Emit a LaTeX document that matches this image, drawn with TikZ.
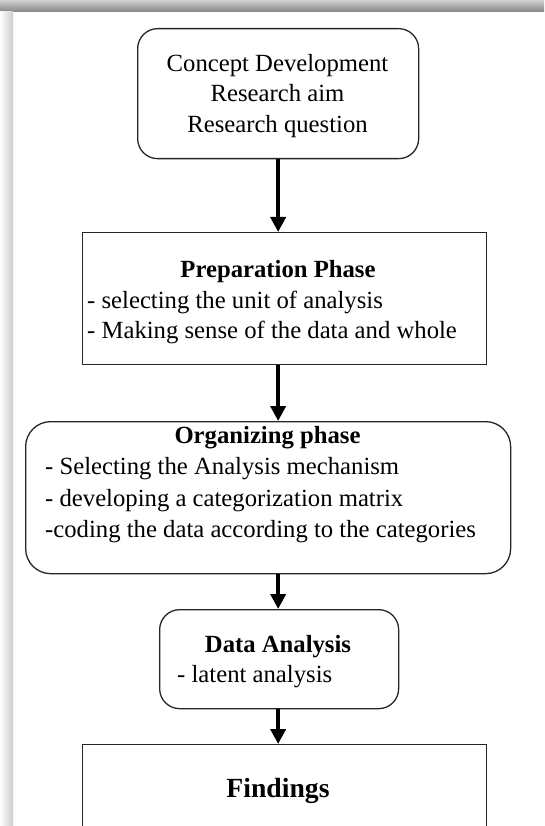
\documentclass[tikz,border=0pt]{standalone}
\usepackage{fontspec}
\setmainfont{Liberation Serif}
\usetikzlibrary{arrows.meta}
\begin{document}
\begin{tikzpicture}[x=1pt,y=-1pt,
  box/.style={draw=black!85, line width=1.3pt, inner sep=0pt, anchor=north west, fill=white},
  rbox/.style={box, rounded corners=20pt},
  txt/.style={inner sep=0pt, font=\fontsize{24.7}{30}\selectfont},
  ttl/.style={inner sep=0pt, font=\fontsize{24.7}{30}\selectfont\bfseries},
  arr/.style={line width=4.5pt, -{Triangle[width=15pt,length=15pt]}}
]
\useasboundingbox (0,0) rectangle (544,826);
\clip (0,0) rectangle (544,826);
\fill[white] (0,0) rectangle (544,826);

% page edge shadows
\shade[top color=black!18, bottom color=black!48] (0,0) rectangle (544,12);
\shade[left color=white, right color=black!20] (0,12) rectangle (13,826);

% boxes
\node[rbox, minimum width=281pt, minimum height=130pt] (b1) at (137,28) {};
\node[box, minimum width=404pt, minimum height=132pt] (b2) at (82,232) {};
\node[rbox, rounded corners=25pt, minimum width=485pt, minimum height=152pt] (b3) at (25,421) {};
\node[rbox, minimum width=239pt, minimum height=99pt] (b4) at (159,609) {};
\node[box, minimum width=404pt, minimum height=120pt] (b5) at (82,744) {};

% texts
\node[txt, anchor=base] (t1a) at (277.5,72) {Concept Development};
\node[txt, anchor=base] (t1b) at (277.5,102) {Research aim};
\node[txt, anchor=base] (t1c) at (277.5,133) {Research question};

\node[ttl, anchor=base] (t2a) at (278,277) {Preparation Phase};
\node[txt, anchor=base west] (t2b) at (87,308) {- selecting the unit of analysis};
\node[txt, anchor=base west] (t2c) at (87,338) {- Making sense of the data and whole};

\node[ttl, anchor=base] (t3a) at (267.5,443) {Organizing phase};
\node[txt, anchor=base west] (t3b) at (45,474) {- Selecting the Analysis mechanism};
\node[txt, anchor=base west] (t3c) at (45,506) {- developing a categorization matrix};
\node[txt, anchor=base west] (t3d) at (45,537) {-coding the data according to the categories};

\node[ttl, anchor=base] (t4a) at (278,652) {Data Analysis};
\node[txt, anchor=base west] (t4b) at (177,682) {- latent analysis};

\node[inner sep=0pt, font=\fontsize{27.7}{32}\selectfont\bfseries, anchor=base] (t5) at (278,797) {Findings};

% connectors
\draw[arr] (b1.south) -- (b1.south |- b2.north);
\draw[arr] (b1.south |- b2.south) -- (b1.south |- b3.north);
\draw[arr] (b1.south |- b3.south) -- (b1.south |- b4.north);
\draw[arr] (b1.south |- b4.south) -- (b1.south |- b5.north);
\end{tikzpicture}
\end{document}
